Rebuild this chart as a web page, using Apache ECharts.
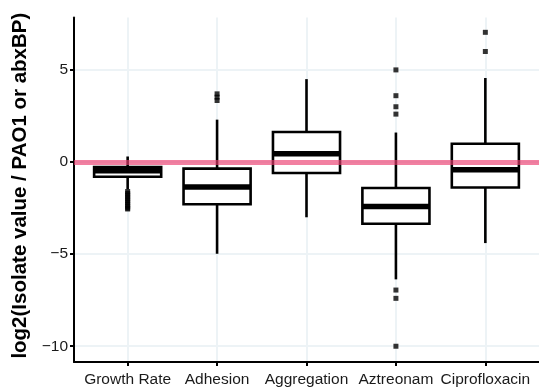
<!DOCTYPE html>
<html>
<head>
<meta charset="utf-8">
<script src="https://cdn.jsdelivr.net/npm/echarts@6/dist/echarts.min.js"></script>
<style>
  html, body { margin: 0; padding: 0; background: #ffffff; }
  #chart { width: 539px; height: 390px; }
</style>
</head>
<body>
<div id="chart"></div>
<script>
// Phenotype ratios (log2 of isolate value relative to PAO1 / antibiotic breakpoint)
const categories = ['Growth Rate', 'Adhesion', 'Aggregation', 'Aztreonam', 'Ciprofloxacin'];

// Box summaries per category
const whiskerLow  = [-1.47, -4.98, -3.00, -6.37, -4.40];
const lowerHinge  = [-0.80, -2.29, -0.60, -3.35, -1.38];
const medians     = [-0.47, -1.36,  0.45, -2.41, -0.42];
const upperHinge  = [-0.27, -0.36,  1.63, -1.41,  0.99];
const whiskerHigh = [ 0.30,  2.30,  4.50,  1.60,  4.56];

// Outlying isolates per category
const outliers = [
  [-1.6, -1.7, -1.8, -1.9, -2.0, -2.1, -2.2, -2.3, -2.4, -2.5, -2.55],
  [3.70, 3.52, 3.34],
  [],
  [5.0, 3.6, 3.0, 2.6, -6.95, -7.4, -10.0],
  [7.04, 6.0]
];

// Axis ticks
const yTicks = [-10, -5, 0, 5];
const xTicks = [1, 2, 3, 4, 5];
const referenceLevel = 0;

const boxData = categories.map((c, i) => [i + 1, whiskerLow[i], lowerHinge[i], medians[i], upperHinge[i], whiskerHigh[i]]);
const outlierData = [];
outliers.forEach((vals, i) => vals.forEach(v => outlierData.push([i + 1, v])));

const BOX_WIDTH = 0.75;
const LINE_W = 2.6;
const MEDIAN_W = 5.5;

function renderBox(params, api) {
  const x = api.value(0);
  const low = api.coord([x, api.value(1)]);
  const q1 = api.coord([x, api.value(2)]);
  const med = api.coord([x, api.value(3)]);
  const q3 = api.coord([x, api.value(4)]);
  const high = api.coord([x, api.value(5)]);
  const w = api.size([BOX_WIDTH, 0])[0];
  const cx = low[0];
  const left = cx - w / 2;
  const stroke = { stroke: '#000', lineWidth: LINE_W };
  return {
    type: 'group',
    children: [
      { type: 'line', shape: { x1: cx, y1: q3[1], x2: cx, y2: high[1] }, style: stroke },
      { type: 'line', shape: { x1: cx, y1: q1[1], x2: cx, y2: low[1] }, style: stroke },
      { type: 'rect', shape: { x: left, y: q3[1], width: w, height: q1[1] - q3[1] },
        style: { fill: '#fff', stroke: '#000', lineWidth: LINE_W } },
      { type: 'line', shape: { x1: left, y1: med[1], x2: left + w, y2: med[1] },
        style: { stroke: '#000', lineWidth: MEDIAN_W } }
    ]
  };
}

const gridColor = '#edf3f6';
const labelFont = 'Liberation Sans, Arial, Helvetica, sans-serif';

const chart = echarts.init(document.getElementById('chart'), null, { renderer: 'canvas' });
chart.setOption({
  backgroundColor: '#ffffff',
  animation: false,
  grid: { left: 74, right: 0, top: 17.4, bottom: 28.1, containLabel: false },
  xAxis: {
    type: 'value',
    min: 0.4,
    max: 5.6,
    splitLine: { show: false },
    axisLine: { show: true, onZero: false, lineStyle: { color: '#000', width: 2 } },
    axisTick: { show: true, customValues: xTicks, length: 4, lineStyle: { color: '#000', width: 2 } },
    axisLabel: {
      customValues: xTicks,
      margin: 10,
      color: '#1a1a1a',
      fontSize: 15.5,
      fontFamily: labelFont,
      formatter: v => categories[Math.round(v) - 1] || ''
    }
  },
  yAxis: {
    type: 'value',
    min: -10.85,
    max: 7.85,
    name: 'log2(Isolate value / PAO1 or abxBP)',
    nameLocation: 'middle',
    nameGap: 42,
    nameTextStyle: {
      color: '#000', fontSize: 20.5, fontWeight: 'bold', fontFamily: labelFont,
      padding: [0, 0, 0, 8]
    },
    splitLine: { show: false },
    axisLine: { show: true, onZero: false, lineStyle: { color: '#000', width: 2 } },
    axisTick: { show: true, customValues: yTicks, length: 4, lineStyle: { color: '#000', width: 2 } },
    axisLabel: {
      customValues: yTicks,
      margin: 6,
      color: '#1a1a1a',
      fontSize: 15.5,
      fontFamily: labelFont,
      formatter: v => (v < 0 ? '\u2212' + Math.abs(v) : String(v))
    }
  },
  series: [
    {
      // background grid
      type: 'line',
      data: [],
      silent: true,
      z: 0,
      markLine: {
        silent: true,
        z: 0,
        symbol: 'none',
        label: { show: false },
        lineStyle: { color: gridColor, width: 2, type: 'solid' },
        data: yTicks.map(v => ({ yAxis: v })).concat(xTicks.map(v => ({ xAxis: v })))
      }
    },
    {
      type: 'custom',
      renderItem: renderBox,
      data: boxData,
      encode: { x: 0, y: [1, 2, 3, 4, 5] },
      z: 2,
      clip: false
    },
    {
      type: 'scatter',
      data: outlierData,
      symbol: 'rect',
      symbolSize: 5,
      itemStyle: { color: '#000' },
      z: 3
    },
    {
      // reference line at zero
      type: 'line',
      data: [],
      silent: true,
      z: 10,
      markLine: {
        silent: true,
        z: 10,
        symbol: 'none',
        label: { show: false },
        lineStyle: { color: 'rgba(235,60,110,0.65)', width: 5, type: 'solid' },
        data: [{ yAxis: referenceLevel }]
      }
    }
  ]
});
</script>
</body>
</html>
